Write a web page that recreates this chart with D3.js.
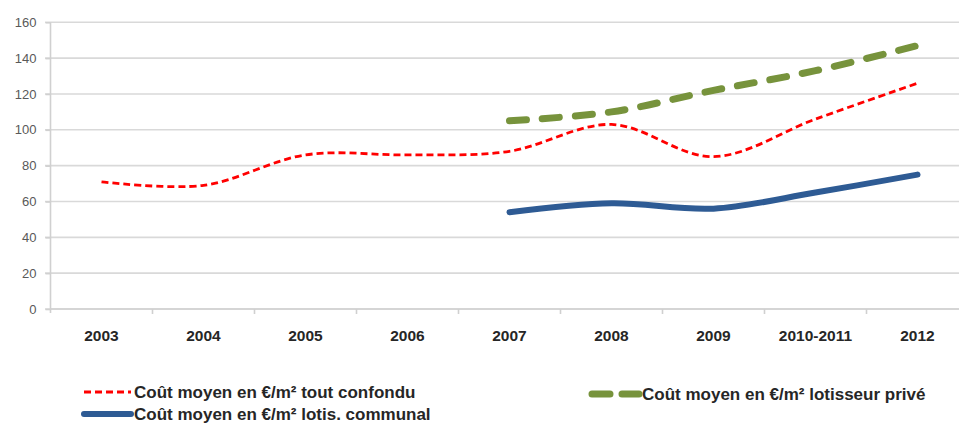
<!DOCTYPE html>
<html>
<head>
<meta charset="utf-8">
<script src="https://cdn.jsdelivr.net/npm/d3@7"></script>
<style>
  html, body { margin: 0; padding: 0; background: #fff; }
  svg { display: block; }
</style>
</head>
<body>
<svg id="chart" width="959" height="425"></svg>
<script>
// Categories (years) and average cost per m² for each series
const categories = ["2003", "2004", "2005", "2006", "2007", "2008", "2009", "2010-2011", "2012"];
const coutToutConfondu = [71, 69, 86, 86, 88, 103, 85, 106, 126];
const coutLotisseurPrive = [null, null, null, null, 105, 110, 122, 133, 147];
const coutLotisCommunal = [null, null, null, null, 54, 59, 56, 65, 75];
const yTicks = [0, 20, 40, 60, 80, 100, 120, 140, 160];

const seriesNames = [
  "Coût moyen en €/m² tout confondu",
  "Coût moyen en €/m² lotisseur privé",
  "Coût moyen en €/m² lotis. communal"
];

const svg = d3.select("#chart");
const font = "'Liberation Sans', Arial, sans-serif";

const x = d3.scaleBand().domain(categories).range([50.5, 968.5]);
const y = d3.scaleLinear().domain([0, 160]).range([309, 22.3]);

// Horizontal gridlines
svg.append("g")
  .selectAll("line")
  .data(yTicks)
  .join("line")
  .attr("x1", 45).attr("x2", 959)
  .attr("y1", d => y(d)).attr("y2", d => y(d))
  .attr("stroke", "#d9d9d9")
  .attr("stroke-width", 1.6);

// Y axis
const yAxis = svg.append("g")
  .attr("transform", "translate(50.5,0)")
  .call(d3.axisLeft(y).tickValues(yTicks).tickSize(5).tickPadding(9).tickSizeOuter(0));
yAxis.select(".domain").attr("stroke", "#d0d0d0").attr("stroke-width", 1.6)
  .attr("d", `M0,${y(160)}V${y(0) + 4}`);
yAxis.selectAll(".tick line").attr("stroke", "#d0d0d0").attr("stroke-width", 1.6);
yAxis.selectAll(".tick text")
  .attr("fill", "#595959")
  .style("font-family", font)
  .style("font-size", "13px");

// X axis with ticks between categories
const xAxis = svg.append("g")
  .attr("transform", `translate(0,${y(0)})`);
xAxis.append("line")
  .attr("x1", 50.5).attr("x2", 959)
  .attr("y1", 0).attr("y2", 0)
  .attr("stroke", "#d0d0d0").attr("stroke-width", 1.6);
xAxis.selectAll("line.tick")
  .data(categories.slice(1))
  .join("line")
  .attr("class", "tick")
  .attr("x1", d => x(d)).attr("x2", d => x(d))
  .attr("y1", 0).attr("y2", 5)
  .attr("stroke", "#d0d0d0").attr("stroke-width", 1.6);
xAxis.selectAll("text")
  .data(categories)
  .join("text")
  .attr("x", d => x(d) + x.bandwidth() / 2)
  .attr("y", 31.5)
  .attr("text-anchor", "middle")
  .attr("fill", "#262626")
  .style("font-family", font)
  .style("font-weight", "bold")
  .style("font-size", "15.5px")
  .text(d => d);

// Smoothed series lines
const line = d3.line()
  .defined(d => d.v != null)
  .x(d => x(d.c) + x.bandwidth() / 2)
  .y(d => y(d.v))
  .curve(d3.curveCardinal.tension(0));

const toPoints = vals => categories.map((c, i) => ({ c, v: vals[i] }));

svg.append("path")
  .datum(toPoints(coutLotisCommunal))
  .attr("d", line)
  .attr("fill", "none")
  .attr("stroke", "#2e5b94")
  .attr("stroke-width", 6)
  .attr("stroke-linecap", "round");

svg.append("path")
  .datum(toPoints(coutLotisseurPrive))
  .attr("d", line)
  .attr("fill", "none")
  .attr("stroke", "#77933c")
  .attr("stroke-width", 7)
  .attr("stroke-linecap", "round")
  .attr("stroke-dasharray", "17,16");

svg.append("path")
  .datum(toPoints(coutToutConfondu))
  .attr("d", line)
  .attr("fill", "none")
  .attr("stroke", "#ff0000")
  .attr("stroke-width", 2.8)
  .attr("stroke-dasharray", "7,4");

// Legend
const legend = svg.append("g");
const legendItems = [
  { name: seriesNames[0], x: 84, y: 392, color: "#ff0000", w: 2.8, dash: "7,4", cap: "butt" },
  { name: seriesNames[1], x: 592, y: 394, color: "#77933c", w: 7, dash: "18,12", cap: "round" },
  { name: seriesNames[2], x: 84, y: 414, color: "#2e5b94", w: 6, dash: null, cap: "round" }
];
legendItems.forEach(it => {
  legend.append("line")
    .attr("x1", it.x).attr("x2", it.x + 47)
    .attr("y1", it.y).attr("y2", it.y)
    .attr("stroke", it.color)
    .attr("stroke-width", it.w)
    .attr("stroke-linecap", it.cap)
    .attr("stroke-dasharray", it.dash);
  legend.append("text")
    .attr("x", it.x + 50)
    .attr("y", it.y + 6)
    .attr("fill", "#262626")
    .style("font-family", font)
    .style("font-weight", "bold")
    .style("font-size", "17px")
    .text(it.name);
});
</script>
</body>
</html>
